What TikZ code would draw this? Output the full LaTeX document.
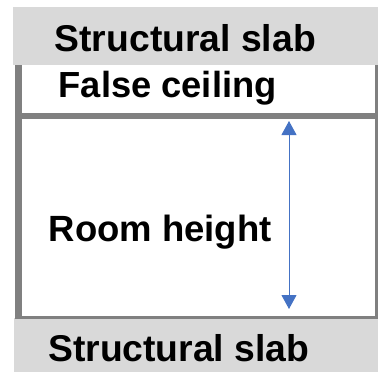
\documentclass[tikz,border=0pt]{standalone}
\usepackage{fontspec}
\setmainfont{Liberation Sans}
\usetikzlibrary{arrows.meta}
\definecolor{slab}{HTML}{D9D9D9}
\definecolor{wall}{HTML}{808080}
\definecolor{arr}{HTML}{4472C4}
\begin{document}
\begin{tikzpicture}[x=1pt,y=-1pt,
  lbl/.style={font=\fontsize{36.5}{40}\selectfont\bfseries, anchor=base west, inner sep=0pt},
  slablbl/.style={lbl, font=\fontsize{37.3}{41}\selectfont\bfseries},
  wallline/.style={draw=wall}]
\useasboundingbox (0,0) rectangle (378,372);
% slabs
\fill[slab] (13,7) rectangle (378,65);
\fill[slab] (14,318) rectangle (378,372);
% walls and lines
\draw[wallline, line width=7pt] (18.5,65) -- (18.5,319);
\draw[wallline, line width=3pt] (376.5,65) -- (376.5,319);
\draw[wallline, line width=3pt] (15,317) -- (378,317);
\draw[wallline, line width=6pt] (15,116) -- (375,116);
% texts
\node[slablbl] (slabtop) at (54.5,51.5) {Structural slab};
\node[lbl, font=\fontsize{36.3}{40}\selectfont\bfseries] (ceiling) at (58.5,97) {False ceiling};
\node[lbl] (room) at (48.5,241) {Room height};
\node[slablbl] (slabbot) at (48,361) {Structural slab};
% arrow
\coordinate (atop) at (289,121);
\coordinate (abot) at (289,309);
\draw[arr, line width=1pt, {Triangle[length=14pt,width=15pt]}-{Triangle[length=14pt,width=15pt]}] (atop) -- (abot);
\end{tikzpicture}
\end{document}
